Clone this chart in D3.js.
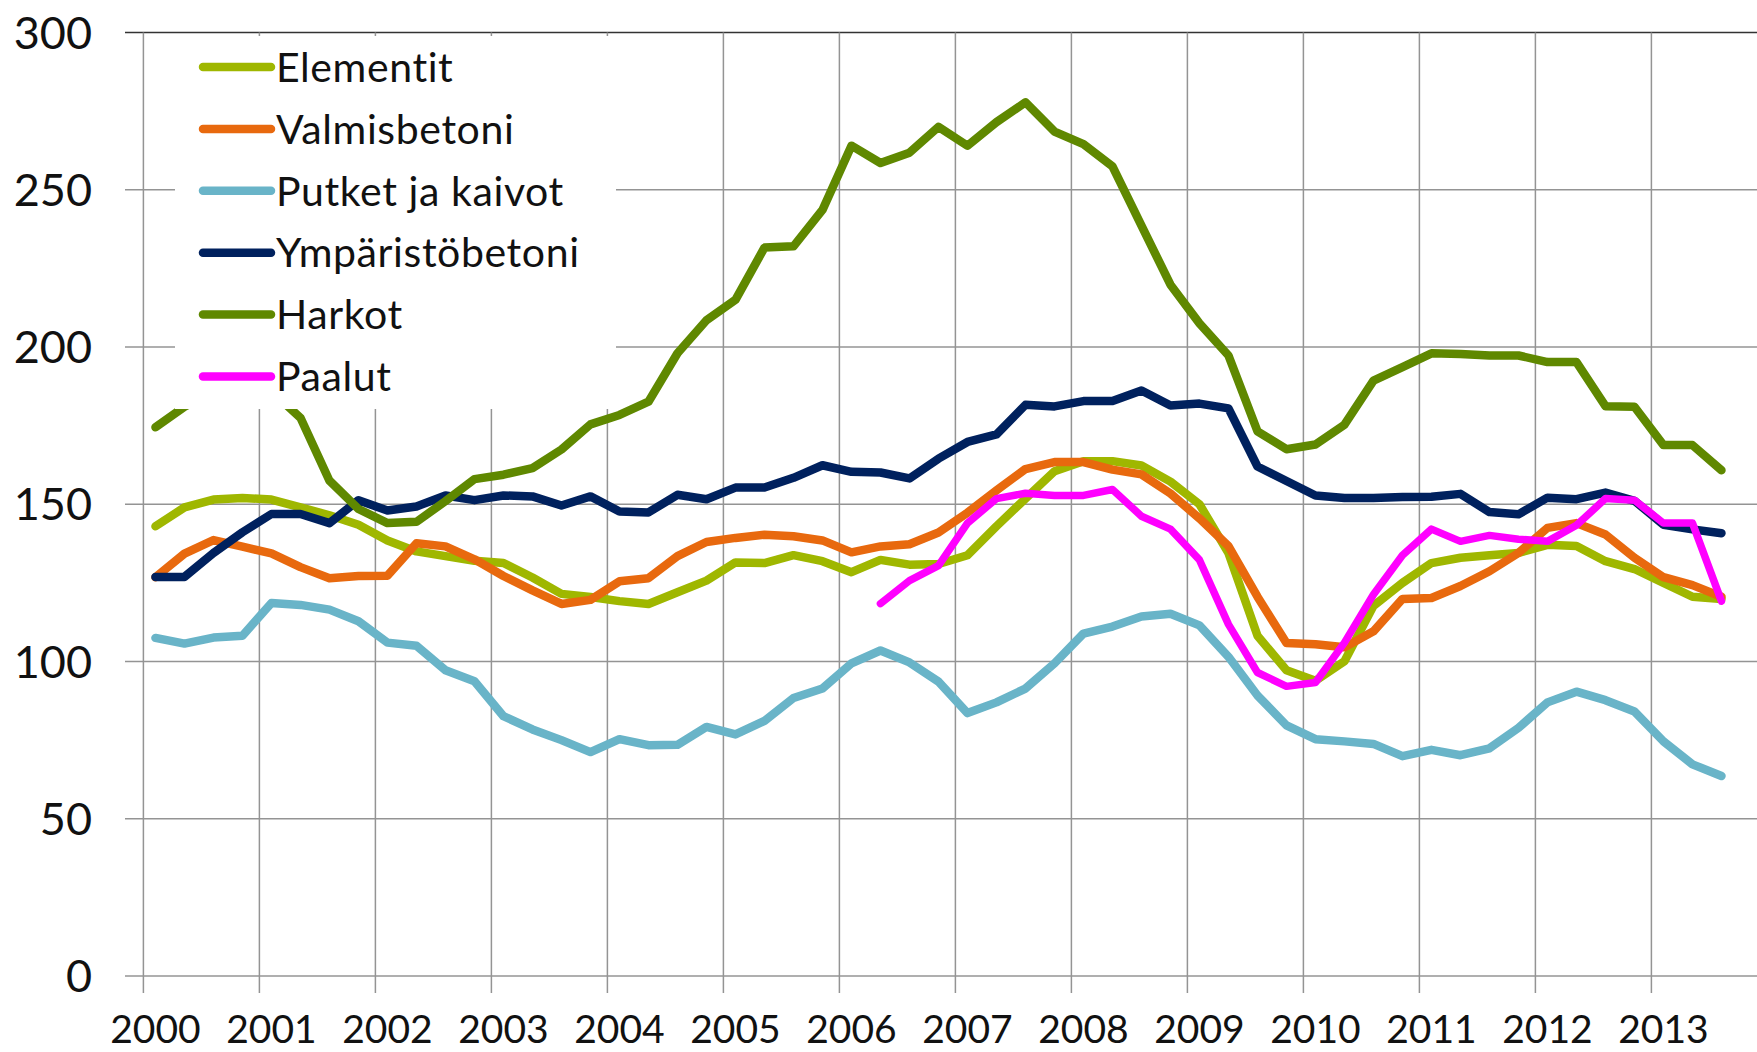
<!DOCTYPE html>
<html>
<head>
<meta charset="utf-8">
<title>Betonituotteet</title>
<script src="https://d3js.org/d3.v7.min.js"></script>
<style>
body { margin: 0; background: #fff; }
svg { display: block; font-family: Lato, "Open Sans", sans-serif; }
.grid { stroke: #949494; stroke-width: 1.5; }
.series { fill: none; stroke-linejoin: round; stroke-linecap: round; }
</style>
</head>
<body>
<svg width="1757" height="1052"></svg>
<script>
// quarterly index values, 2000Q1 .. 2013Q3
const years = [2000, 2001, 2002, 2003, 2004, 2005, 2006, 2007, 2008, 2009, 2010, 2011, 2012, 2013];
const yTicks = [0, 50, 100, 150, 200, 250, 300];

const elementit = [143, 149, 151.5, 152, 151.5, 149, 146.5, 143.5, 138.5, 135, 133.5, 132, 131.3, 126.7, 121.5, 120.5, 119.2, 118.3, 122, 125.7,
  131.5, 131.3, 133.8, 131.9, 128.4, 132.3, 130.8, 131, 133.8, 143, 151.8, 160.5, 163.7, 163.7, 162.3, 157.2, 150, 134.5, 108.2, 97.2,
  93.9, 100.1, 117.7, 125, 131.3, 133, 133.8, 134.5, 137.1, 136.7, 131.9, 129.4, 125, 120.6, 119.9];
const valmisbetoni = [126.8, 134.3, 138.6, 136.5, 134.4, 130, 126.5, 127.2, 127.3, 137.6, 136.6, 132.5, 127.2, 122.6, 118.3, 119.6, 125.5, 126.5, 133.5, 138,
  139.3, 140.3, 139.8, 138.5, 134.7, 136.6, 137.3, 141, 147.3, 154.4, 161.2, 163.4, 163.4, 161, 159.5, 153.4, 145.5, 136.7, 120.6, 105.9,
  105.5, 104.5, 109.6, 119.9, 120.2, 124, 128.7, 134.5, 142.5, 144, 140.4, 133, 126.8, 124.3, 120.6];
const putket = [107.5, 105.7, 107.6, 108.2, 118.6, 118, 116.5, 112.8, 106, 105, 97.2, 93.7, 82.6, 78.4, 75, 71.2, 75.3, 73.4, 73.5, 79.2,
  76.8, 81.1, 88.4, 91.4, 99.4, 103.5, 99.7, 93.6, 83.6, 87, 91.4, 99.4, 108.9, 111.1, 114.3, 115.2, 111.5, 101.5, 89.2, 79.7,
  75.3, 74.6, 73.8, 69.9, 71.9, 70.2, 72.4, 78.9, 87, 90.4, 87.7, 84.1, 74.6, 67.3, 63.6];
const ymparisto = [126.9, 126.9, 134.5, 141.1, 146.9, 146.9, 144, 151.3, 148, 149.3, 152.8, 151.3, 152.8, 152.5, 149.6, 152.5, 147.7, 147.4, 153, 151.6,
  155.3, 155.3, 158.4, 162.4, 160.3, 160.1, 158.2, 164.5, 169.8, 172.2, 181.6, 181.1, 182.8, 182.8, 186.2, 181.4, 182, 180.5, 162, 157.4,
  152.8, 152, 152, 152.3, 152.4, 153.3, 147.5, 146.8, 152.1, 151.6, 153.7, 151.1, 143.5, 142, 140.8];
const harkot = [174.5, 181, 186, 188, 186, 177.5, 157.5, 148.5, 144, 144.4, 151, 158, 159.4, 161.5, 167.4, 175.4, 178.4, 182.6, 198, 208.5,
  215, 231.6, 232, 243.6, 264, 258.5, 261.8, 270, 264, 271.5, 277.8, 268.5, 264.5, 257.4, 238.6, 219.8, 207.5, 197.3, 173.2, 167.5,
  169, 175.3, 189.3, 193.6, 198, 197.8, 197.3, 197.3, 195.2, 195.2, 181.2, 181, 168.8, 168.8, 160.8];
const paalut = [null, null, null, null, null, null, null, null, null, null, null, null, null, null, null, null, null, null, null, null,
  null, null, null, null, null, 118.4, 125.7, 130.5, 144, 151.8, 153.5, 152.8, 152.8, 154.7, 146.2, 142.1, 132.3, 111.8, 96.5, 92.1,
  93.3, 106, 121.3, 133.8, 142.1, 138.2, 140.1, 138.9, 138.2, 143.3, 151.8, 151.3, 144, 144, 119.2];

const seriesNames = ["Elementit", "Valmisbetoni", "Putket ja kaivot", "Ympäristöbetoni", "Harkot", "Paalut"];
const seriesColors = ["#9fb700", "#e8690e", "#69b4c8", "#00215e", "#5f8800", "#ff00ff"];
const seriesValues = [elementit, valmisbetoni, putket, ymparisto, harkot, paalut];

// quarter positions as fractional years
const quarters = [];
years.forEach(function(yr) { for (let q = 0; q < 4; q++) quarters.push(yr + q * 0.25 + 0.104); });
quarters.length = elementit.length;

const svg = d3.select("svg");
const x = d3.scaleLinear().domain([2000, 2014]).range([143.4, 1767.4]);
const y = d3.scaleLinear().domain([0, 300]).range([976, 32.5]);

// grid
svg.append("g").selectAll("line").data(yTicks).enter().append("line")
  .attr("class", "grid")
  .attr("x1", 125).attr("x2", 1757)
  .attr("y1", d => y(d)).attr("y2", d => y(d))
  .style("stroke", d => d == 300 ? "#333" : null);
svg.append("g").selectAll("line").data(years).enter().append("line")
  .attr("class", "grid")
  .attr("x1", d => x(d)).attr("x2", d => x(d))
  .attr("y1", y(300)).attr("y2", y(0) + 17);

// axis labels
svg.append("g").selectAll("text").data(yTicks).enter().append("text")
  .attr("x", 92).attr("y", d => y(d)).attr("dy", "0.36em")
  .attr("text-anchor", "end").attr("font-size", 45).attr("fill", "#111")
  .text(d => d);
svg.append("g").selectAll("text").data(years).enter().append("text")
  .attr("x", d => x(d + 0.104)).attr("y", 1043)
  .attr("text-anchor", "middle").attr("font-size", 39).attr("fill", "#111")
  .text(d => d);

// series
const line = d3.line().defined(d => d[1] != null).x(d => x(d[0])).y(d => y(d[1]));
seriesValues.forEach(function(vals, k) {
  svg.append("path")
    .datum(vals.map((v, i) => [quarters[i], v]))
    .attr("class", "series")
    .attr("stroke", seriesColors[k])
    .attr("stroke-width", k == 5 ? 7.5 : 8.5)
    .attr("d", line);
});

// legend
const legend = svg.append("g");
legend.append("rect").attr("x", 175).attr("y", 36).attr("width", 441).attr("height", 373).attr("fill", "#fff");
seriesNames.forEach(function(name, k) {
  const ly = 67 + k * 61.9;
  legend.append("line")
    .attr("x1", 203).attr("x2", 271).attr("y1", ly).attr("y2", ly)
    .attr("stroke", seriesColors[k]).attr("stroke-width", 8.5).attr("stroke-linecap", "round");
  legend.append("text")
    .attr("x", 276).attr("y", ly).attr("dy", "0.36em")
    .attr("font-size", 41).attr("letter-spacing", 0.6).attr("fill", "#111")
    .text(name);
});
</script>
</body>
</html>
